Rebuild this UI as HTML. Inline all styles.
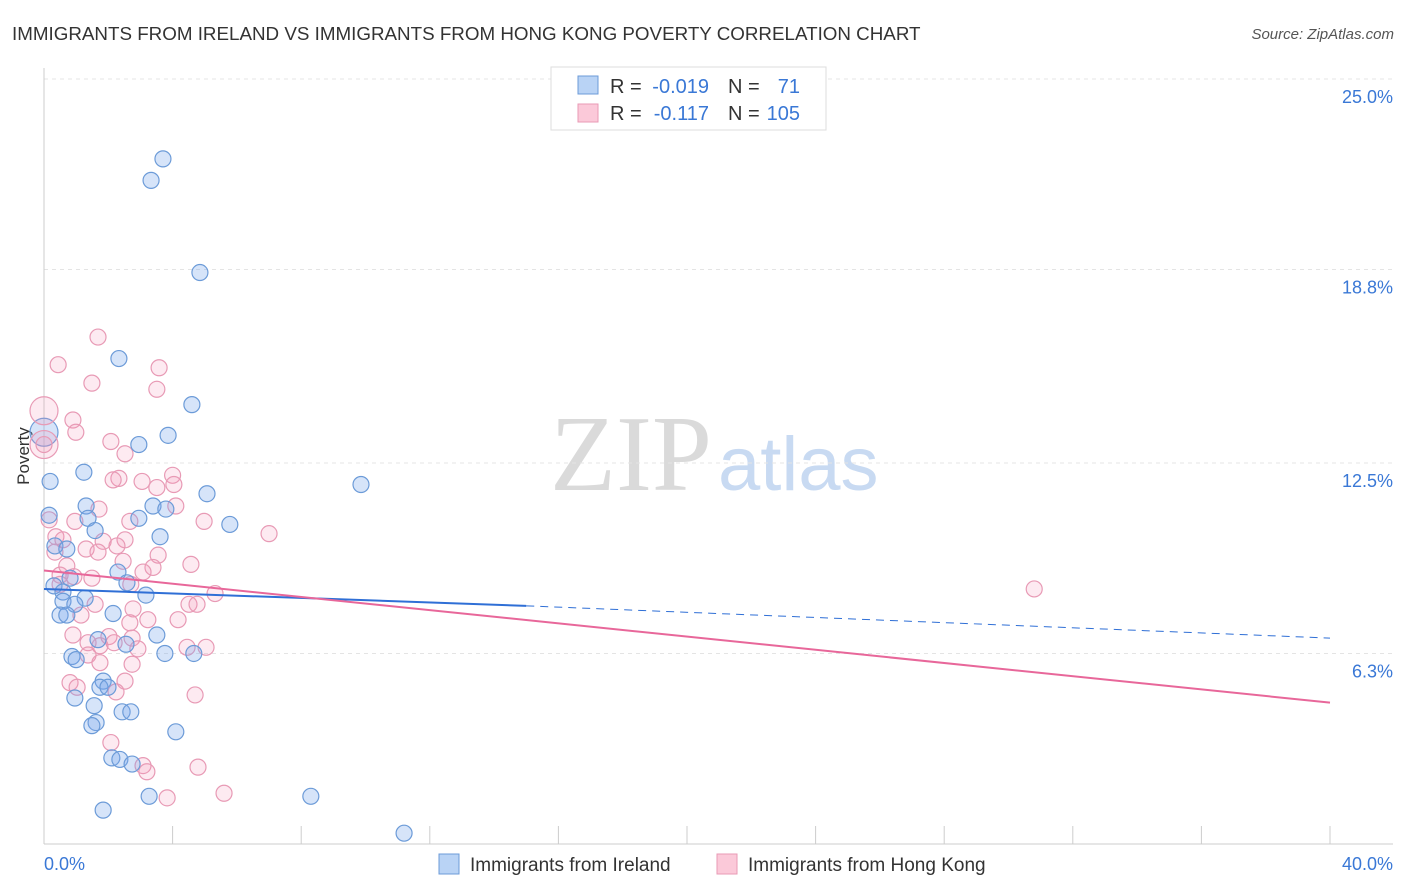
<!DOCTYPE html>
<html><head><meta charset="utf-8"><style>
body{margin:0;background:#fff;font-family:"Liberation Sans",sans-serif;}
svg{display:block}
</style></head><body>
<svg id="chart" width="1406" height="892">
<text x="12" y="40" font-size="18.8" fill="#333">IMMIGRANTS FROM IRELAND VS IMMIGRANTS FROM HONG KONG POVERTY CORRELATION CHART</text>
<text x="1394" y="39" font-size="15" fill="#555" font-style="italic" text-anchor="end">Source: ZipAtlas.com</text>
<text x="29" y="456" font-size="17" fill="#333" text-anchor="middle" transform="rotate(-90 29 456)">Poverty</text>
<g>
<text x="712" y="490" font-size="108" font-family="Liberation Serif,serif" fill="#dadada" text-anchor="end">ZIP</text>
<text x="718" y="490" font-size="76" fill="#c8daf2">atlas</text>
</g>
<g id="grid"></g><g id="axes"></g><g id="pts"></g><g id="lines"></g>
<g>
<rect x="551" y="67" width="275" height="63" fill="#fff" stroke="#ddd"/>
<rect x="578" y="76" width="20" height="18" fill="#b9d3f5" stroke="#6c9bd8"/>
<rect x="578" y="104" width="20" height="18" fill="#fbc9d9" stroke="#e89ab5"/>
<text x="610" y="93" font-size="20" fill="#333">R =</text>
<text x="709" y="93" font-size="20" fill="#3a78d6" text-anchor="end">-0.019</text>
<text x="728" y="93" font-size="20" fill="#333">N =</text>
<text x="800" y="93" font-size="20" fill="#3a78d6" text-anchor="end">71</text>
<text x="610" y="120" font-size="20" fill="#333">R =</text>
<text x="709" y="120" font-size="20" fill="#3a78d6" text-anchor="end">-0.117</text>
<text x="728" y="120" font-size="20" fill="#333">N =</text>
<text x="800" y="120" font-size="20" fill="#3a78d6" text-anchor="end">105</text>
</g>
<g>
<rect x="439" y="854" width="20" height="20" fill="#b9d3f5" stroke="#6c9bd8"/>
<text x="470" y="871" font-size="19" fill="#333">Immigrants from Ireland</text>
<rect x="717" y="854" width="20" height="20" fill="#fbc9d9" stroke="#e89ab5"/>
<text x="748" y="871" font-size="19" fill="#333">Immigrants from Hong Kong</text>
</g>
</svg>
<script>
const yTicks=[25.0,18.8,12.5,6.3];
const yTickLabels=["25.0%","18.8%","12.5%","6.3%"];
const xLabels=["0.0%","40.0%"];
const irelandX=[3.7,3.33,4.85,2.33,4.6,3.86,2.95,1.24,0.19,9.86,5.07,1.31,3.39,3.79,2.95,1.37,5.78,0.16,1.59,3.61,0.34,0.71,2.3,0.31,0.81,2.58,0.59,3.17,1.28,0.59,0.96,0.5,0.71,2.15,3.51,2.55,1.68,0.87,3.76,4.66,1.0,1.84,1.74,1.99,0.96,1.56,2.43,2.7,1.62,1.49,4.1,2.11,2.36,2.74,3.27,8.3,1.84,11.2];
const irelandY=[22.4,21.7,18.7,15.9,14.4,13.4,13.1,12.2,11.9,11.8,11.5,11.1,11.1,11.0,10.7,10.7,10.5,10.8,10.3,10.1,9.8,9.7,8.95,8.5,8.75,8.6,8.3,8.2,8.1,8.0,7.9,7.55,7.55,7.6,6.9,6.6,6.75,6.2,6.3,6.3,6.1,5.4,5.2,5.2,4.85,4.6,4.4,4.4,4.05,3.95,3.75,2.9,2.85,2.7,1.65,1.65,1.2,0.45];
const hkX=[1.68,0.44,3.58,1.49,3.51,0.9,0.99,2.08,0,2.52,4.0,2.33,3.05,2.15,4.04,3.51,4.1,1.71,2.67,4.98,0.96,0.16,7.0,0.37,2.52,0.59,1.84,2.27,1.31,0.34,1.68,3.55,2.46,4.57,0.71,3.39,3.08,0.5,1.49,0.93,2.7,0.5,30.8,5.32,1.59,4.51,4.76,2.77,1.15,3.23,2.67,4.17,0.9,2.02,2.74,1.37,2.18,1.74,4.45,5.04,2.92,1.37,1.74,2.74,0.81,2.52,1.03,2.24,4.7,2.08,3.08,3.2,4.79,3.83,5.6];
const hkY=[16.6,15.7,15.6,15.1,14.9,13.9,13.5,13.2,13.1,12.8,12.1,12.0,11.9,11.95,11.8,11.7,11.1,11.0,10.6,10.6,10.6,10.65,10.2,10.1,10.0,10.0,9.95,9.8,9.7,9.6,9.6,9.5,9.3,9.2,9.15,9.1,8.95,8.85,8.75,8.8,8.55,8.55,8.4,8.25,7.9,7.9,7.9,7.75,7.55,7.4,7.3,7.4,6.9,6.85,6.8,6.65,6.65,6.55,6.5,6.5,6.45,6.25,6.0,5.95,5.35,5.4,5.2,5.05,4.95,3.4,2.65,2.45,2.6,1.6,1.75];
const bigX=[0,0,0];const bigY=[13.5,14.2,13.1];const bigSeries=["ie","hk","hk"];
const irelandTrend=[[0,8.4],[15,7.85],[40,6.8]];
const hkTrend=[[0,9.0],[40,4.7]];
const NS="http://www.w3.org/2000/svg";
const X=v=>44+v/40*1286, Y=v=>847-v/6.25*192;
function mk(tag,attrs,parent){const e=document.createElementNS(NS,tag);for(const k in attrs)e.setAttribute(k,attrs[k]);document.getElementById(parent).appendChild(e);return e;}
yTicks.forEach((t,i)=>{
 const g=mk('line',{x1:44,x2:1393,y1:Y(t),y2:Y(t),stroke:'#e4e4e4','stroke-dasharray':'4,4'},'grid');
 
 
 const l=mk('text',{x:1393,y:Y(t)+24,'font-size':18,fill:'#3a78d6','text-anchor':'end'},'axes');l.textContent=yTickLabels[i];
 
 
});
mk('line',{x1:44,x2:44,y1:68,y2:844,stroke:'#ccc'},'axes');
mk('line',{x1:44,x2:1393,y1:844,y2:844,stroke:'#ccc'},'axes');
for(let i=0;i<=10;i++){const t=mk('line',{x1:X(i*4),x2:X(i*4),y1:826,y2:844,stroke:'#ccc'},'axes');
 
 }
const xl0=mk('text',{x:44,y:870,'font-size':18,fill:'#3a78d6'},'axes');xl0.textContent=xLabels[0];


const xl1=mk('text',{x:1393,y:870,'font-size':18,fill:'#3a78d6','text-anchor':'end'},'axes');xl1.textContent=xLabels[1];


const sty={ie:{fill:'rgba(120,165,235,0.3)',stroke:'#6c9bd8'},hk:{fill:'rgba(245,150,185,0.2)',stroke:'#e89ab5'}};
function pt(x,y,s,r){const c=mk('circle',{cx:X(x),cy:Y(y),r:r,fill:sty[s].fill,stroke:sty[s].stroke,'stroke-width':1.2},'pts');
 
 }
bigX.forEach((x,i)=>pt(x,bigY[i],bigSeries[i],14));
hkX.forEach((x,i)=>pt(x,hkY[i],'hk',8));
irelandX.forEach((x,i)=>pt(x,irelandY[i],'ie',8));
const a=mk('line',{x1:X(irelandTrend[0][0]),y1:Y(irelandTrend[0][1]),x2:X(irelandTrend[1][0]),y2:Y(irelandTrend[1][1]),stroke:'#2f6fd6','stroke-width':2},'lines');


const b=mk('line',{x1:X(irelandTrend[1][0]),y1:Y(irelandTrend[1][1]),x2:X(irelandTrend[2][0]),y2:Y(irelandTrend[2][1]),stroke:'#2f6fd6','stroke-width':1,'stroke-dasharray':'8,6'},'lines');


const c=mk('line',{x1:X(hkTrend[0][0]),y1:Y(hkTrend[0][1]),x2:X(hkTrend[1][0]),y2:Y(hkTrend[1][1]),stroke:'#e8679a','stroke-width':2},'lines');


</script>
</body></html>
